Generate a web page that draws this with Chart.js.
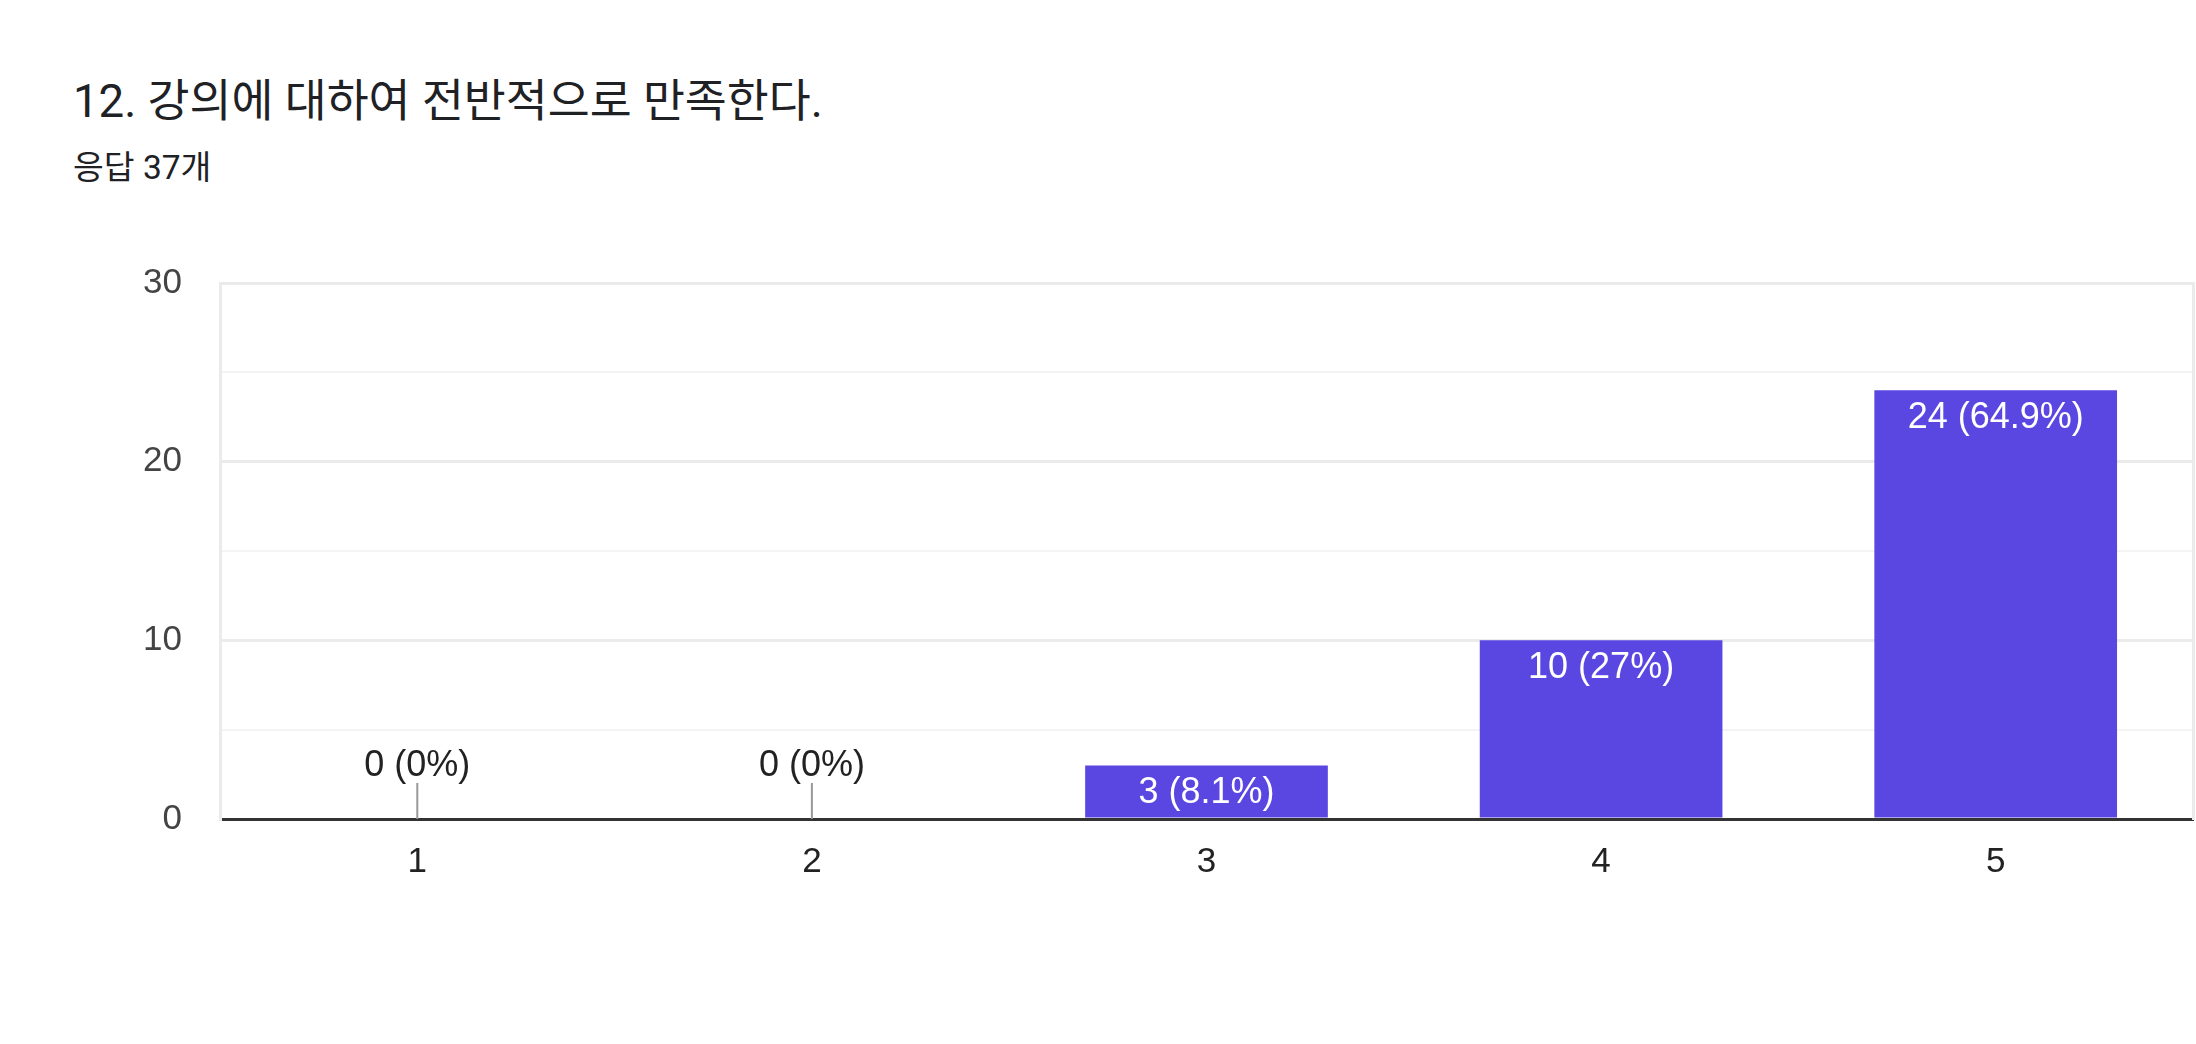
<!DOCTYPE html>
<html>
<head>
<meta charset="utf-8">
<script src="https://cdn.jsdelivr.net/npm/chart.js@4.4.0/dist/chart.umd.min.js"></script>
<style>
  html, body { margin: 0; padding: 0; background: #ffffff; width: 2196px; height: 1044px; overflow: hidden; }
  #title { position: absolute; left: 73px; top: 74px; font-family: Roboto, "Noto Sans CJK KR", sans-serif; font-size: 45.6px; color: #202124; white-space: nowrap; line-height: 56px; }
  #subtitle { position: absolute; left: 73px; top: 149px; font-family: Roboto, "Noto Sans CJK KR", sans-serif; font-size: 33.5px; color: #202124; white-space: nowrap; line-height: 38px; }
  #wrap { position: absolute; left: 0; top: 0; width: 2196px; height: 1044px; }
</style>
</head>
<body>
<div id="title">12. 강의에 대하여 전반적으로 만족한다.</div>
<div id="subtitle">응답 37개</div>
<div id="wrap"><canvas id="c" width="2196" height="1044"></canvas></div>
<script>
const categories = ['1', '2', '3', '4', '5'];
const counts = [0, 0, 3, 10, 24];
const totalResponses = 37;
const yTickValues = [0, 10, 20, 30];

const barColor = '#5a47e2';
const font = "'Liberation Sans', Arial, sans-serif";

function pctText(v) {
  let p = (v / totalResponses * 100).toFixed(1);
  if (p.endsWith('.0')) p = p.slice(0, -2);
  return v + ' (' + p + '%)';
}

const labelPlugin = {
  id: 'barLabels',
  afterDatasetsDraw(chart) {
    const ctx = chart.ctx;
    const meta = chart.getDatasetMeta(0);
    const yScale = chart.scales.y;
    const base = yScale.getPixelForValue(0);
    ctx.save();
    ctx.font = '36px ' + font;
    ctx.textAlign = 'center';
    ctx.textBaseline = 'middle';
    meta.data.forEach((bar, i) => {
      const v = counts[i];
      const x = bar.x;
      if (v > 0) {
        ctx.fillStyle = '#ffffff';
        ctx.fillText(pctText(v), x, bar.y + 28);
      } else {
        ctx.strokeStyle = '#999999';
        ctx.lineWidth = 2;
        ctx.beginPath();
        ctx.moveTo(x, base);
        ctx.lineTo(x, base - 36);
        ctx.stroke();
        ctx.fillStyle = '#222222';
        ctx.fillText(pctText(v), x, base - 53);
      }
    });
    ctx.restore();
  }
};

new Chart(document.getElementById('c'), {
  type: 'bar',
  data: {
    labels: categories,
    datasets: [{
      data: counts,
      backgroundColor: barColor,
      borderWidth: 0,
      barPercentage: 1.0,
      categoryPercentage: 0.615
    }]
  },
  options: {
    responsive: false,
    animation: false,
    devicePixelRatio: 1,
    layout: { padding: { top: 283, left: 0, right: 0, bottom: 0 } },
    plugins: { legend: { display: false }, tooltip: { enabled: false } },
    scales: {
      x: {
        grid: { display: false, drawTicks: false },
        border: { display: true, color: '#333333', width: 3 },
        ticks: { color: '#222222', font: { family: font, size: 35 }, padding: 22 },
        afterFit(s) { s.height = 225; }
      },
      y: {
        min: 0, max: 30,
        grid: {
          drawTicks: false,
          lineWidth: (c) => (c.tick && c.tick.value % 10 === 0 ? 3 : 2),
          color: (c) => {
            if (!c.tick) return '#ebebeb';
            if (c.tick.value === 0) return 'rgba(0,0,0,0)';
            return c.tick.value % 10 === 0 ? '#ebebeb' : '#f4f4f4';
          }
        },
        border: { display: true, color: '#ebebeb', width: 3 },
        ticks: {
          stepSize: 5,
          color: '#444444',
          font: { family: font, size: 35 },
          padding: 38,
          callback: (v) => (yTickValues.includes(v) ? String(v) : '')
        },
        afterFit(s) { s.width = 220; }
      },
      y2: {
        position: 'right',
        min: 0, max: 30,
        grid: { display: false, drawTicks: false },
        border: { display: true, color: '#ebebeb', width: 3 },
        ticks: { display: false },
        afterFit(s) { s.width = 3; }
      }
    }
  },
  plugins: [labelPlugin]
});
</script>
</body>
</html>
